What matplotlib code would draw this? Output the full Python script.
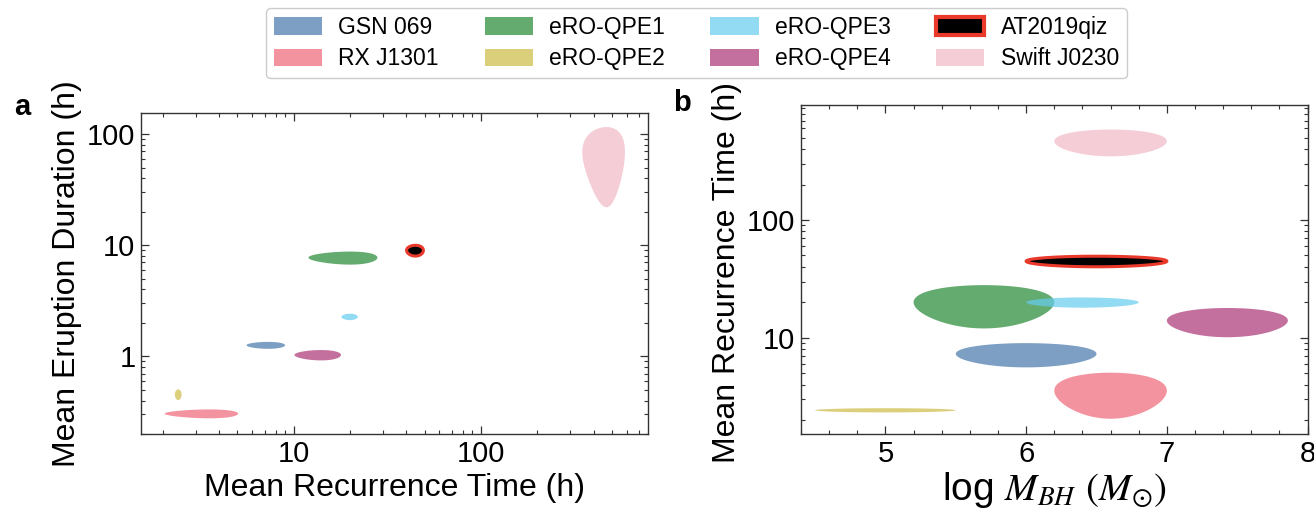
import numpy as np
import matplotlib.pyplot as plt
from matplotlib.patches import Patch
from matplotlib.ticker import FuncFormatter, NullFormatter, LogLocator, MultipleLocator

plt.rcParams['font.family'] = 'Liberation Sans'
plt.rcParams['mathtext.fontset'] = 'stix'

# sources (centre values and half-widths)
names = ['GSN 069', 'RX J1301', 'eRO-QPE1', 'eRO-QPE2',
         'eRO-QPE3', 'eRO-QPE4', 'AT2019qiz', 'Swift J0230']
recurrence = [7.3, 3.55, 20.0, 2.42, 20.0, 14.0, 44.7, 468.0]
recurrence_err = [1.7, 1.5, 8.0, 0.1, 2.0, 3.9, 4.6, 120.0]
duration = [1.26, 0.305, 7.74, 0.454, 2.27, 1.03, 9.0, 69.0]
duration_err = [0.09, 0.028, 1.04, 0.05, 0.15, 0.11, 1.0, 47.0]
log_mass = [6.0, 6.6, 5.7, 5.0, 6.4, 7.43, 6.5, 6.6]
log_mass_err = [0.5, 0.4, 0.5, 0.5, 0.4, 0.43, 0.5, 0.4]

colors = ['#4477AA', '#EE6677', '#228833', '#CCBB44',
          '#66CCEE', '#AA3377', '#000000', '#F2B8C6']
at_edge = '#E8392B'

t = np.linspace(0, 2 * np.pi, 500)


def ellipse(ax, cx, dx, cy, dy, name, color):
    x = cx + dx * np.cos(t)
    y = cy + dy * np.sin(t)
    if name == 'AT2019qiz':
        ax.fill(x, y, facecolor='black', edgecolor=at_edge, lw=2.2, zorder=3)
    else:
        ax.fill(x, y, color=color, alpha=0.7, lw=0)


fig = plt.figure(figsize=(13.14, 5.09), dpi=100)
ax1 = fig.add_axes([0.1073, 0.1473, 0.3858, 0.6306])
ax2 = fig.add_axes([0.6096, 0.1473, 0.3855, 0.6464])

for i in range(len(names)):
    ellipse(ax1, recurrence[i], recurrence_err[i], duration[i], duration_err[i], names[i], colors[i])
    ellipse(ax2, log_mass[i], log_mass_err[i], recurrence[i], recurrence_err[i], names[i], colors[i])

fmt = FuncFormatter(lambda v, p: '%g' % v)

ax1.set_xscale('log')
ax1.set_yscale('log')
ax1.set_xlim(1.53, 780)
ax1.set_ylim(0.2, 155)
ax2.set_yscale('log')
ax2.set_xlim(4.4, 8.0)
ax2.set_ylim(1.52, 950)
ax2.xaxis.set_major_locator(MultipleLocator(1))
ax2.xaxis.set_minor_locator(MultipleLocator(0.2))

for ax in (ax1, ax2):
    for axis in ([ax.xaxis, ax.yaxis] if ax is ax1 else [ax.yaxis]):
        axis.set_major_locator(LogLocator(base=10))
        axis.set_minor_locator(LogLocator(base=10, subs=np.arange(2, 10)))
        axis.set_major_formatter(fmt)
        axis.set_minor_formatter(NullFormatter())
    ax.tick_params(which='both', direction='in', top=True, right=True,
                   labelsize=21, color='#333333', pad=4)
    ax.tick_params(which='major', length=6, width=0.9)
    ax.tick_params(which='minor', length=3, width=0.8)
    for s in ax.spines.values():
        s.set_color('#333333')
        s.set_linewidth(1.0)

ax1.set_xlabel('Mean Recurrence Time (h)', fontsize=23)
ax1.set_ylabel('Mean Eruption Duration (h)', fontsize=23)
ax2.set_xlabel(r'log $M_{BH}$ $(M_{\odot})$', fontsize=28, labelpad=2)
ax2.set_ylabel('Mean Recurrence Time (h)', fontsize=23)
ax1.yaxis.set_label_coords(-0.116, 0.5)
ax2.yaxis.set_label_coords(-0.116, 0.49)

fig.text(0.0167, 0.79, 'a', fontsize=21, fontweight='bold', ha='center', va='center')
fig.text(0.519, 0.798, 'b', fontsize=21, fontweight='bold', ha='center', va='center')

handles = []
for i in range(len(names)):
    if names[i] == 'AT2019qiz':
        handles.append(Patch(facecolor='black', edgecolor=at_edge, lw=3, label=names[i]))
    else:
        handles.append(Patch(facecolor=colors[i], alpha=0.7, edgecolor='none', label=names[i]))
fig.legend(handles=handles, ncol=4, loc='upper center', bbox_to_anchor=(0.530, 0.984),
           borderaxespad=0, fontsize=16.5, handlelength=2.1, handleheight=0.8,
           handletextpad=0.7, columnspacing=2.0, labelspacing=0.36, borderpad=0.35,
           fancybox=True, framealpha=1, edgecolor='#cccccc')

fig.savefig('out.png', dpi=100)
